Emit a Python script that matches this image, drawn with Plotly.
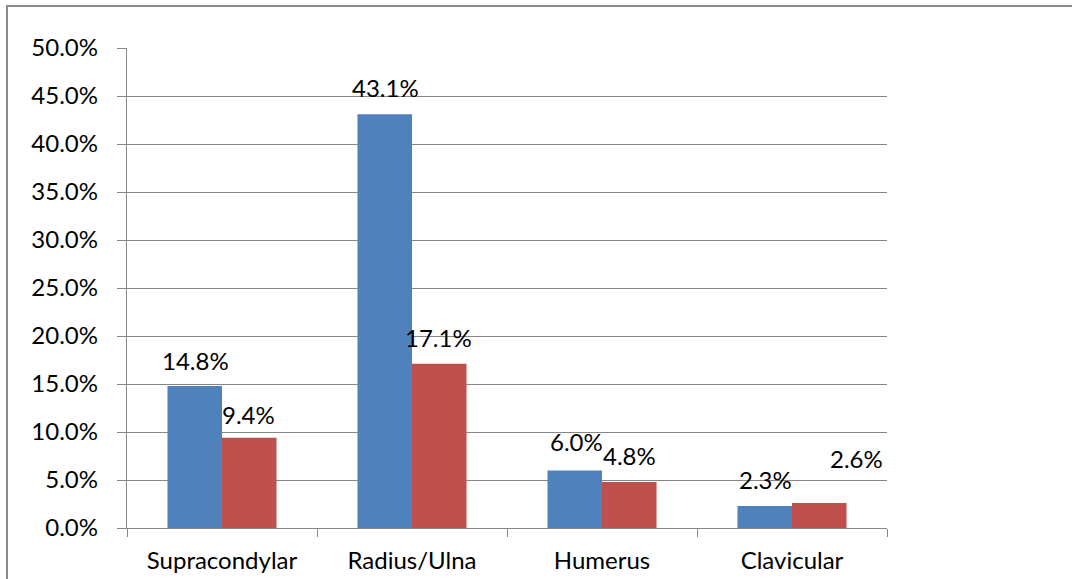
import plotly.graph_objects as go

categories = ["Supracondylar", "Radius/Ulna", "Humerus", "Clavicular"]
series_a = [14.8, 43.1, 6.0, 2.3]
series_b = [9.4, 17.1, 4.8, 2.6]
y_ticks = [0, 5, 10, 15, 20, 25, 30, 35, 40, 45, 50]
y_tick_labels = ["0.0%", "5.0%", "10.0%", "15.0%", "20.0%", "25.0%",
                 "30.0%", "35.0%", "40.0%", "45.0%", "50.0%"]

# label offsets (pixels) relative to category center / bar top
offs_a = [(-27, 25), (-27, 27), (-26, 29), (-27, 26)]
offs_b = [(26, 23), (26, 26), (27, 26), (64, 45)]

FONT = "Lato"
FS = 24
GRID = "#878787"

fig = go.Figure()
fig.add_trace(go.Bar(x=categories, y=series_a, marker=dict(color="#4F81BD", line=dict(width=0)), name="A"))
fig.add_trace(go.Bar(x=categories, y=series_b, marker=dict(color="#C0504D", line=dict(width=0)), name="B"))

annotations = []
for vals, offs in ((series_a, offs_a), (series_b, offs_b)):
    for c, v, (dx, dy) in zip(categories, vals, offs):
        annotations.append(dict(x=c, y=v, xref="x", yref="y", text=f"{v:.1f}%",
                                showarrow=False, xshift=dx, yshift=dy,
                                xanchor="center", yanchor="middle",
                                font=dict(family=FONT, size=FS, color="#000000")))

fig.update_layout(
    width=1072, height=579,
    margin=dict(l=127, r=185, t=48, b=51, autoexpand=False),
    paper_bgcolor="white", plot_bgcolor="white",
    showlegend=False,
    barmode="group", bargap=0.426, bargroupgap=0,
    font=dict(family=FONT, size=FS, color="#000000"),
    annotations=annotations,
    shapes=[dict(type="rect", xref="paper", yref="paper",
                 x0=-120/760, x1=948/760, y0=-54/480, y1=1 + 42/480,
                 line=dict(color="#8c8c8c", width=2), fillcolor="rgba(0,0,0,0)", layer="below")],
)
fig.update_yaxes(range=[0, 50], tickmode="array", tickvals=y_ticks, ticktext=y_tick_labels,
                 showgrid=True, gridcolor=GRID, gridwidth=1.4, automargin=False,
                 showline=True, linecolor=GRID, linewidth=1.4,
                 ticks="outside", ticklen=9, tickcolor=GRID, tickwidth=1.4,
                 ticklabelstandoff=14, zeroline=False,
                 tickfont=dict(family=FONT, size=FS, color="#000000"))
fig.update_xaxes(showgrid=False, showline=True, linecolor=GRID, linewidth=1.4, automargin=False,
                 ticks="outside", tickson="boundaries", ticklen=8, tickcolor=GRID, tickwidth=1.4,
                 ticklabelstandoff=11,
                 tickfont=dict(family=FONT, size=FS, color="#000000"))

fig.write_html("out.html", config={"displayModeBar": False},
               post_script="document.body.style.margin='0px';document.body.style.overflow='hidden';")
